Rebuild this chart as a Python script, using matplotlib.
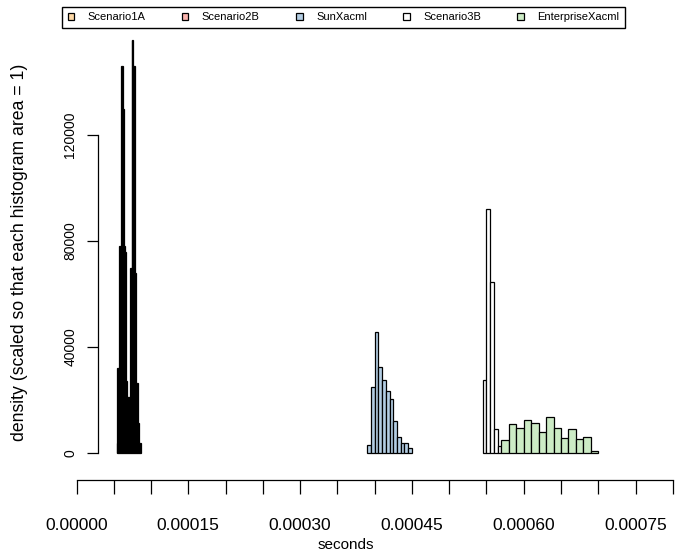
import numpy as np
import matplotlib
matplotlib.use('Agg')
import matplotlib.pyplot as plt
from matplotlib.patches import Patch

plt.rcParams['font.family'] = ['Liberation Sans', 'DejaVu Sans']

# ===== DATA (histogram densities) =====
names = ['Scenario1A', 'Scenario2B', 'SunXacml', 'Scenario3B', 'EnterpriseXacml']
colors = ['#FED9A6', '#FBB4AE', '#B3CDE3', '#FFFFFF', '#CCEBC5']

s1a_start, s1a_width = 0.000054, 0.000001
s1a_density = [3800, 32000, 32000, 78000, 78000, 78000, 146000, 146000,
               130000, 130000, 78000, 76000, 27000, 27000, 21000, 21000]

s2b_start, s2b_width = 0.000070, 0.000001
s2b_density = [21000, 21000, 70000, 70000, 156000, 156000, 146000, 146000,
               68000, 68000, 26500, 26500, 11500, 11500, 3800, 3800]

sun_start, sun_width = 0.000390, 0.000005
sun_density = [3000, 25000, 45500, 32500, 27500, 23500, 20500, 12000, 6000, 3800, 3800, 1900]

s3b_start, s3b_width = 0.000545, 0.000005
s3b_density = [27500, 92000, 64500, 9000, 2600]

ent_start, ent_width = 0.000570, 0.00001
ent_density = [4900, 11000, 9500, 12500, 11300, 8000, 13500, 9500, 5700, 9000, 5300, 6100, 900]

x_ticks = np.arange(0, 0.00080001, 0.00005)
x_labels = ['0.00000', '0.00015', '0.00030', '0.00045', '0.00060', '0.00075']
y_ticks = [0, 40000, 80000, 120000]
# ===== DATA =====

W, H = 675, 557
fig = plt.figure(figsize=(W / 100, H / 100), dpi=100)


def px_rect(x0, y0, x1, y1):
    # pixel box (top-left origin) -> figure fraction rect
    return [x0 / W, 1 - y1 / H, (x1 - x0) / W, (y1 - y0) / H]


ax_left, ax_right, ax_top, ax_bottom = 76.5, 672.8, 20, 480
zero_px = 453
per_px = 40000 / 106.0
ax = fig.add_axes(px_rect(ax_left, ax_top, ax_right, ax_bottom))
ax.set_xlim(0, 0.0008)
ax.set_ylim(-(ax_bottom - zero_px) * per_px, (zero_px - ax_top) * per_px)

series = [
    (s1a_start, s1a_width, s1a_density),
    (s2b_start, s2b_width, s2b_density),
    (sun_start, sun_width, sun_density),
    (s3b_start, s3b_width, s3b_density),
    (ent_start, ent_width, ent_density),
]
for (start, width, dens), col in zip(series, colors):
    edges = start + width * np.arange(len(dens) + 1)
    ax.bar(edges[:-1], dens, width=width, align='edge', color=col,
           edgecolor='black', linewidth=0.9)

for side in ['top', 'right']:
    ax.spines[side].set_visible(False)
ax.spines['bottom'].set_bounds(0, 0.0008)
ax.spines['left'].set_bounds(0, 120000)
ax.spines['left'].set_position(('data', (98 - ax_left) / (ax_right - ax_left) * 0.0008))
for side in ['bottom', 'left']:
    ax.spines[side].set_linewidth(0.9)

ax.set_xticks(x_ticks)
ax.set_xticklabels([x_labels[i // 3] if i % 3 == 0 else '' for i in range(len(x_ticks))])
ax.tick_params(axis='x', length=10, width=0.9, pad=17, labelsize=12.5, colors='black')
ax.set_yticks(y_ticks)
ax.set_yticklabels([str(v) for v in y_ticks], rotation=90, va='center')
ax.tick_params(axis='y', length=8, width=0.9, pad=7, labelsize=10)

fig.text(20 / W, 1 - 252 / H, 'density (scaled so that each histogram area = 1)',
         rotation=90, ha='center', va='center', fontsize=12.7)
fig.text(346 / W, 1 - 545 / H, 'seconds', ha='center', va='center', fontsize=11)

handles = [Patch(facecolor=c, edgecolor='black', linewidth=0.9) for c in colors]
fig.legend(handles, names, ncol=5, mode='expand',
           bbox_to_anchor=px_rect(62, 5, 625, 30), loc='center',
           fontsize=8, handlelength=0.6, handleheight=0.6, handletextpad=1.2,
           frameon=True, fancybox=False, edgecolor='black', framealpha=1,
           borderpad=0.5, borderaxespad=0)
fig.legends[0].get_frame().set_linewidth(1.0)

fig.savefig('out.png', dpi=100)
